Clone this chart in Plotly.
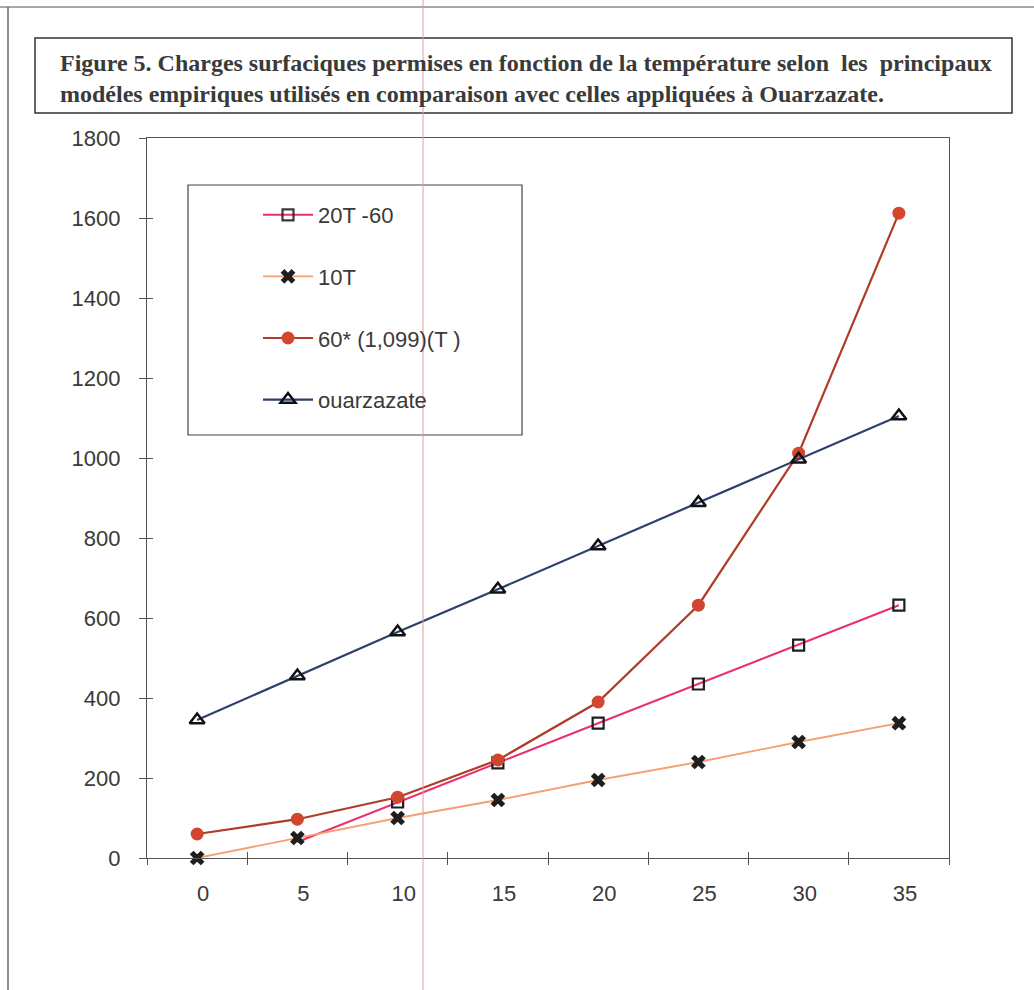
import plotly.graph_objects as go

# Temperatures (categories) and permitted surface loads per model
temperatures = ["0", "5", "10", "15", "20", "25", "30", "35"]
load_20t_minus_60 = [None, 40, 140, 238, 337, 435, 532, 632]
load_10t = [0, 50, 100, 145, 195, 240, 290, 337]
load_exponential = [60, 97, 152, 245, 390, 632, 1012, 1612]
load_ouarzazate = [345, 455, 565, 672, 780, 888, 997, 1105]

series_names = ["20T -60", "10T", "60* (1,099)(T )", "ouarzazate"]
y_ticks = list(range(0, 1801, 200))

W, H = 1034, 990
L, R, T, B = 147, 85, 138, 132
PW, PH = W - L - R, H - T - B


def px(x):
    return (x - L) / PW


def py(y):
    return (H - B - y) / PH


fig = go.Figure()

fig.add_trace(go.Scatter(
    x=temperatures, y=load_20t_minus_60, name=series_names[0], legendgroup="a",
    mode="lines+markers", line=dict(color="#ec2f6e", width=2), cliponaxis=False,
    marker=dict(symbol="square-open", size=11, opacity=[1, 0, 1, 1, 1, 1, 1, 1],
                color="#1e1e1e", line=dict(width=2.2)),
))
fig.add_trace(go.Scatter(
    x=temperatures, y=load_10t, name=series_names[1], legendgroup="b",
    mode="lines+markers", line=dict(color="#f5a070", width=1.8), cliponaxis=False,
    marker=dict(symbol="x", size=13, color="#1e1e1e", line=dict(width=0)),
))
fig.add_trace(go.Scatter(
    x=temperatures, y=load_exponential, name=series_names[2], legendgroup="c",
    mode="lines+markers", line=dict(color="#b03c28", width=2.2), cliponaxis=False,
    marker=dict(symbol="circle", size=13, color="#d2452f"),
))
fig.add_trace(go.Scatter(
    x=temperatures, y=load_ouarzazate, name=series_names[3], legendgroup="d",
    mode="lines+markers", line=dict(color="#2d3f6b", width=2.2), cliponaxis=False,
    marker=dict(symbol="triangle-up-open", size=13, color="#111111",
                line=dict(width=2.5)),
))

axis_font = dict(family="Liberation Sans, Arial, sans-serif", size=22, color="#3a3a3a")

shapes = [
    # page edges
    dict(type="line", xref="paper", yref="paper", x0=px(0), x1=px(W), y0=py(7), y1=py(7),
         line=dict(color="#8a8a8a", width=1.5)),
    dict(type="line", xref="paper", yref="paper", x0=px(8), x1=px(8), y0=py(H), y1=py(7),
         line=dict(color="#6a6a6a", width=1.5)),
    # title frame
    dict(type="rect", xref="paper", yref="paper", x0=px(35), x1=px(1012), y0=py(113), y1=py(38),
         line=dict(color="#333333", width=1.5)),
    # legend frame
    dict(type="rect", xref="paper", yref="paper", x0=px(188), x1=px(522), y0=py(435), y1=py(185),
         line=dict(color="#444444", width=1.2)),
    # thin red rule across the page
    dict(type="line", xref="paper", yref="paper", x0=px(423), x1=px(423), y0=py(H), y1=py(0),
         line=dict(color="#e79a9a", width=1)),
]

fig.update_layout(
    width=W, height=H,
    margin=dict(l=L, r=R, t=T, b=B),
    paper_bgcolor="white", plot_bgcolor="white",
    showlegend=True,
    legend=dict(
        x=px(258), y=py(194), xanchor="left", yanchor="top",
        bgcolor="rgba(0,0,0,0)", borderwidth=0,
        font=dict(family="Liberation Sans, Arial, sans-serif", size=22, color="#3a3a3a"),
        tracegroupgap=30, itemwidth=50,
    ),
    xaxis=dict(
        type="category", tickson="boundaries", range=[-0.5, 7.5],
        showline=True, linecolor="#555555", linewidth=1.2, mirror=True,
        ticks="outside", ticklen=6, tickcolor="#555555", tickfont=axis_font,
        ticklabelstandoff=15, ticklabelshift=6, showgrid=False, zeroline=False,
    ),
    xaxis2=dict(
        overlaying="x", anchor="y", range=[-0.5, 7.5],
        tickvals=[i - 0.5 for i in range(len(temperatures) + 1)],
        ticks="inside", ticklen=6, tickcolor="#555555",
        showticklabels=False, showgrid=False, zeroline=False, showline=False,
    ),
    yaxis=dict(
        range=[0, 1800], tickvals=y_ticks,
        showline=True, linecolor="#555555", linewidth=1.2, mirror=True,
        ticks="outside", ticklen=7, tickcolor="#555555", tickfont=axis_font,
        ticklabelstandoff=14, showgrid=False, zeroline=False,
    ),
    yaxis2=dict(
        overlaying="y", anchor="x", range=[0, 1800], tickvals=y_ticks,
        ticks="inside", ticklen=6, tickcolor="#555555",
        showticklabels=False, showgrid=False, zeroline=False, showline=False,
    ),
    shapes=shapes,
    annotations=[dict(
        xref="paper", yref="paper", x=px(58), y=py(78), xanchor="left", yanchor="middle",
        align="left", showarrow=False,
        text=("<b>Figure 5. Charges surfaciques permises en fonction de la température selon  les  principaux"
              "<br>modéles empiriques utilisés en comparaison avec celles appliquées à Ouarzazate.</b>"),
        font=dict(family="Liberation Serif, Times New Roman, serif", size=24, color="#3a3a3a"),
    )],
)

# invisible carrier so the overlay axes are laid out
fig.add_trace(go.Scatter(x=[0], y=[0], xaxis="x2", yaxis="y2", mode="markers",
                         marker=dict(opacity=0), showlegend=False, hoverinfo="skip"))

fig.write_html("out.html")
